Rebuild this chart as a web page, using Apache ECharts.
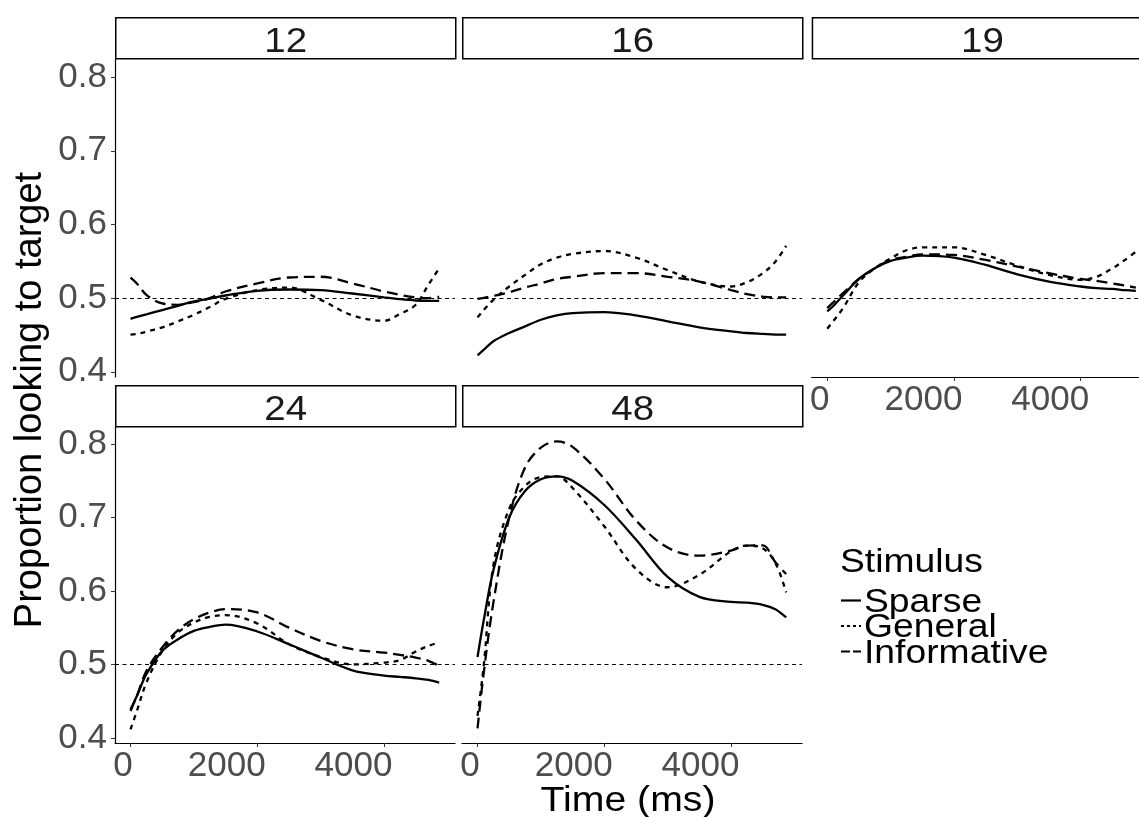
<!DOCTYPE html>
<html>
<head>
<meta charset="utf-8">
<script src="https://cdn.jsdelivr.net/npm/echarts@6.0.0/dist/echarts.min.js"></script>
<style>
  html, body { margin: 0; padding: 0; background: #fff; }
  #chart { width: 1139px; height: 817px; }
</style>
</head>
<body>
<div id="chart"></div>
<script>
// time points (ms) shared by every curve
const times = [0, 100, 250, 500, 750, 1000, 1250, 1500, 2000, 2500, 3000, 3500, 4000, 4250, 4500, 4700, 4870]

// age 12
const sparse12 = [0.472, 0.4745, 0.478, 0.4838, 0.4896, 0.4955, 0.4995, 0.5036, 0.510, 0.5117, 0.511, 0.5063, 0.501, 0.4986, 0.4968, 0.4964, 0.4964]
const general12 = [0.4505, 0.4513, 0.4545, 0.4604, 0.4685, 0.4775, 0.488, 0.499, 0.511, 0.5144, 0.4977, 0.4766, 0.4694, 0.4784, 0.491, 0.518, 0.5405]
const informative12 = [0.528, 0.520, 0.5045, 0.4928, 0.491, 0.4946, 0.500, 0.509, 0.520, 0.528, 0.529, 0.520, 0.509, 0.5045, 0.501, 0.500, 0.502]
// age 16
const sparse16 = [0.4225, 0.430, 0.4414, 0.4527, 0.4617, 0.4707, 0.4766, 0.4797, 0.4811, 0.4766, 0.4685, 0.4604, 0.455, 0.4527, 0.4514, 0.4505, 0.4505]
const general16 = [0.4739, 0.4842, 0.4977, 0.5158, 0.5315, 0.546, 0.555, 0.560, 0.564, 0.555, 0.538, 0.5225, 0.5158, 0.5216, 0.5338, 0.5495, 0.571]
const informative16 = [0.499, 0.5005, 0.503, 0.508, 0.5144, 0.520, 0.526, 0.529, 0.534, 0.534, 0.529, 0.5225, 0.511, 0.5054, 0.502, 0.501, 0.501]
// age 19
const sparse19 = [0.482, 0.4896, 0.5036, 0.526, 0.5405, 0.5505, 0.555, 0.5577, 0.555, 0.545, 0.5324, 0.5225, 0.5158, 0.5135, 0.5126, 0.5108, 0.510]
const general19 = [0.4586, 0.4694, 0.4865, 0.5216, 0.5405, 0.554, 0.565, 0.569, 0.569, 0.5586, 0.544, 0.5315, 0.5248, 0.529, 0.5405, 0.552, 0.563]
const informative19 = [0.4865, 0.4946, 0.5068, 0.526, 0.5405, 0.5518, 0.556, 0.5595, 0.5586, 0.5518, 0.5428, 0.5338, 0.526, 0.5234, 0.520, 0.517, 0.5144]
// age 24
const sparse24 = [0.4388, 0.457, 0.4866, 0.5184, 0.5343, 0.5457, 0.551, 0.554, 0.5448, 0.5275, 0.5093, 0.492, 0.4848, 0.483, 0.4811, 0.479, 0.4752]
const general24 = [0.4115, 0.4366, 0.475, 0.518, 0.5434, 0.557, 0.5648, 0.567, 0.5557, 0.5275, 0.510, 0.500, 0.5025, 0.5057, 0.5175, 0.5252, 0.530]
const informative24 = [0.4366, 0.457, 0.491, 0.523, 0.5466, 0.5616, 0.5707, 0.5752, 0.5707, 0.550, 0.532, 0.5207, 0.5161, 0.513, 0.5093, 0.5048, 0.498]
// age 48
const sparse48 = [0.51, 0.561, 0.628, 0.700, 0.736, 0.752, 0.756, 0.750, 0.717, 0.670, 0.619, 0.592, 0.585, 0.584, 0.581, 0.575, 0.564]
const general48 = [0.43, 0.50, 0.635, 0.712, 0.743, 0.755, 0.756, 0.740, 0.688, 0.630, 0.605, 0.622, 0.654, 0.6617, 0.658, 0.638, 0.598]
const informative48 = [0.413, 0.49, 0.584, 0.700, 0.768, 0.795, 0.8035, 0.796, 0.7526, 0.696, 0.659, 0.648, 0.655, 0.6617, 0.662, 0.639, 0.623]

const panelNames = ['12', '16', '19', '24', '48']
const stimuli = ['Sparse', 'General', 'Informative']
const panelValues = [
  [sparse12, general12, informative12],
  [sparse16, general16, informative16],
  [sparse19, general19, informative19],
  [sparse24, general24, informative24],
  [sparse48, general48, informative48]
]
const timeTicks = [0, 2000, 4000]
const propTicks = [0.4, 0.5, 0.6, 0.7, 0.8]
const chanceLevel = 0.5

const lineDash = { Sparse: 'solid', General: [5, 5], Informative: [11, 6] }
const keyDash = { Sparse: null, General: [3, 3], Informative: [9, 3] }

const font = '"Liberation Sans", Arial, Helvetica, sans-serif'
const colLeft = [115, 462, 811.7]
const rowBox = [
  { strip: 17, top: 59, bottom: 377 },
  { strip: 385, top: 426, bottom: 743 }
]
const panelW = 340
const stripH = 41

// the time labels sit a little left of their ticks, as in the source figure
const timeLabel = v => {
  const s = String(v)
  return '{t|' + s + '}{g' + s.length + '|\u00a0}'
}

const grids = []
const xAxes = []
const yAxes = []
const series = []
const graphics = []

panelNames.forEach((name, i) => {
  const row = rowBox[Math.floor(i / 3)]
  const left = colLeft[i % 3]
  const showY = i % 3 === 0
  const showX = i >= 3 || i === 2

  grids.push({
    left: left,
    top: row.top,
    width: panelW,
    height: row.bottom - row.top,
    outerBoundsMode: 'none'
  })

  xAxes.push({
    gridIndex: i,
    type: 'value',
    min: -245,
    max: 5120,
    show: showX,
    axisLine: { show: true, onZero: false, lineStyle: { color: '#000', width: 1.2 } },
    axisTick: { show: true, customValues: timeTicks, length: 4, lineStyle: { color: '#333' } },
    axisLabel: {
      show: true,
      customValues: timeTicks,
      margin: 6,
      formatter: timeLabel,
      rich: {
        t: { color: '#4d4d4d', fontSize: 35, fontFamily: font },
        g1: { width: 15, fontSize: 35 },
        g4: { width: 61, fontSize: 35 }
      }
    },
    splitLine: { show: false }
  })

  yAxes.push({
    gridIndex: i,
    type: 'value',
    min: 0.393,
    max: 0.8245,
    show: showY,
    axisLine: { show: true, onZero: false, lineStyle: { color: '#000', width: 1.2 } },
    axisTick: { show: true, customValues: propTicks, length: 4, lineStyle: { color: '#333' } },
    axisLabel: {
      show: true,
      customValues: propTicks,
      margin: 8,
      padding: [0, 0, 7, 0],
      color: '#4d4d4d',
      fontSize: 35,
      fontFamily: font,
      formatter: v => v.toFixed(1)
    },
    splitLine: { show: false }
  })

  stimuli.forEach((stim, k) => {
    const s = {
      name: stim,
      type: 'line',
      xAxisIndex: i,
      yAxisIndex: i,
      data: times.map((t, j) => [t, panelValues[i][k][j]]),
      showSymbol: false,
      symbol: 'none',
      smooth: 0.35,
      silent: true,
      z: 3,
      lineStyle: { color: '#000', width: 2.3, type: lineDash[stim], cap: 'butt' }
    }
    if (k === 0) {
      s.markLine = {
        silent: true,
        symbol: ['none', 'none'],
        label: { show: false },
        lineStyle: { color: '#000', width: 1, type: [4, 3.5] },
        data: [{ yAxis: chanceLevel }]
      }
    }
    series.push(s)
  })

  // facet strip
  graphics.push({
    type: 'group',
    left: left,
    top: row.strip,
    children: [
      {
        type: 'rect',
        shape: { x: 0, y: 0, width: panelW, height: stripH },
        style: { fill: '#fff', stroke: '#000', lineWidth: 1.5 }
      },
      {
        type: 'text',
        x: panelW / 2,
        y: 25,
        scaleX: 1.1,
        style: {
          text: name,
          fill: '#1a1a1a',
          fontSize: 35,
          fontFamily: font,
          textAlign: 'center',
          textVerticalAlign: 'middle'
        }
      }
    ]
  })
})

// axis titles
graphics.push({
  type: 'text',
  x: 628,
  y: 801,
  scaleX: 1.12,
  style: {
    text: 'Time (ms)',
    fill: '#000',
    fontSize: 35,
    fontFamily: font,
    textAlign: 'center',
    textVerticalAlign: 'middle'
  }
})
graphics.push({
  type: 'text',
  x: 31,
  y: 400,
  rotation: Math.PI / 2,
  style: {
    text: 'Proportion looking to target',
    fill: '#000',
    fontSize: 38,
    fontFamily: font,
    textAlign: 'center',
    textVerticalAlign: 'middle'
  }
})

// legend
const legendTitleY = 562.5
const legendFirstY = 602.5
const legendStep = 25.5
graphics.push({
  type: 'text',
  x: 840,
  y: legendTitleY,
  scaleX: 1.13,
  style: { text: 'Stimulus', fill: '#000', fontSize: 33, fontFamily: font, textVerticalAlign: 'middle' }
})
stimuli.forEach((stim, k) => {
  const y = legendFirstY + legendStep * k
  graphics.push({
    type: 'line',
    shape: { x1: 841, y1: y - 2, x2: 861, y2: y - 2 },
    style: { stroke: '#000', lineWidth: 2.2, lineDash: keyDash[stim] }
  })
  graphics.push({
    type: 'text',
    x: 864,
    y: y,
    scaleX: 1.13,
    style: { text: stim, fill: '#000', fontSize: 33, fontFamily: font, textVerticalAlign: 'middle' }
  })
})

const chart = echarts.init(document.getElementById('chart'), null, { renderer: 'canvas' })
chart.setOption({
  animation: false,
  backgroundColor: '#fff',
  grid: grids,
  xAxis: xAxes,
  yAxis: yAxes,
  series: series,
  graphic: graphics
})
</script>
</body>
</html>
